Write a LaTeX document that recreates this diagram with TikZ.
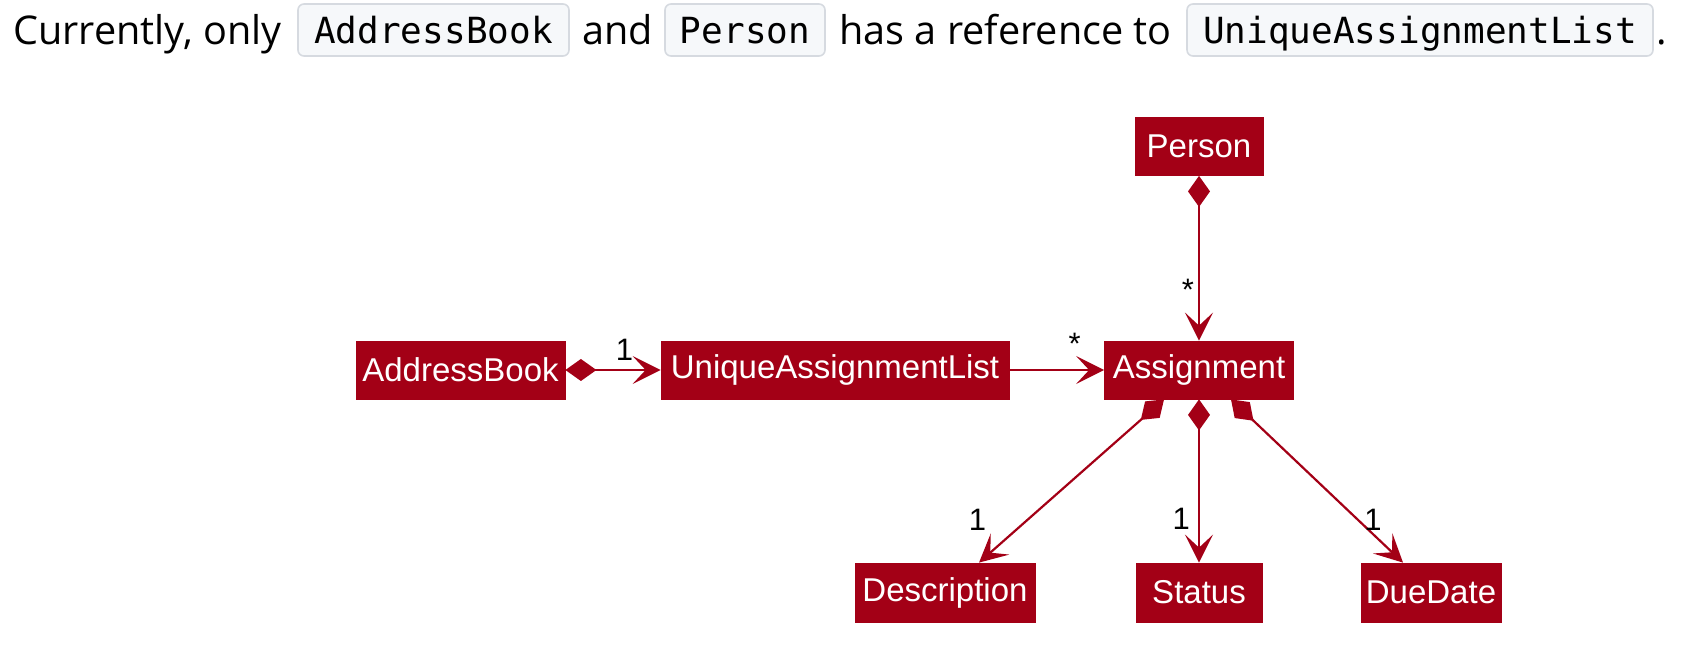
\documentclass[tikz,border=0pt]{standalone}
\usepackage{fontspec}
\setmainfont{Open Sans}
\setmonofont{DejaVu Sans Mono}
\newfontfamily\umlfont{Liberation Sans}
\usetikzlibrary{arrows.meta, positioning}

\definecolor{umlred}{RGB}{163,0,22}
\definecolor{codebg}{RGB}{246,248,250}
\definecolor{codeline}{RGB}{214,218,224}

\tikzset{
	cls/.style={fill=umlred, draw=umlred, text=white, inner sep=0pt,
		minimum height=29pt, font=\umlfont\fontsize{16.5}{20}\selectfont},
	comp/.style={draw=umlred, line width=1.1pt,
		{Diamond[length=15.5pt, width=11pt]}-{Stealth[length=14pt, width=14pt, inset=6.5pt]}},
	assoc/.style={draw=umlred, line width=1.1pt,
		-{Stealth[length=14pt, width=14pt, inset=6.5pt]}},
	mult/.style={font=\umlfont\fontsize{15.5}{18}\selectfont, inner sep=1pt, text=black},
	codebox/.style={draw=codeline, fill=codebg, rounded corners=3pt, line width=0.8pt,
		minimum height=26pt, inner sep=0pt, text height=16pt, text depth=2pt,
		font=\ttfamily\fontsize{18}{22}\selectfont},
	prose/.style={anchor=base west, inner sep=0pt, font=\fontsize{19.8}{24}\selectfont}
}

\begin{document}
\begin{tikzpicture}[x=0.5pt, y=-0.5pt]
	\useasboundingbox (0,0) rectangle (1696,646);
	
	% --- sentence above the diagram ---
	\node[prose] (t1) at (13,45) {Currently, only};
	\node[codebox, minimum width=135.5pt] (c1) at (433.5,30) {AddressBook};
	\node[prose] (t2) at (582,45) {and};
	\node[codebox, minimum width=80pt] (c2) at (745,30) {Person};
	\node[prose] (t3) at (839,45) {has a reference to};
	\node[codebox, minimum width=233pt] (c3) at (1420,30) {UniqueAssignmentList};
	\node[prose] (t4) at (1656,45) {.};
	
	% --- classes ---
	\node[cls, minimum width=64pt] (person) at (1199,146.5) {Person};
	\node[cls, minimum width=104.5pt] (addressbook) at (460.5,370) {AddressBook};
	\node[cls, minimum width=174pt] (ual) at (835,370) {UniqueAssignmentList};
	\node[cls, minimum width=94.5pt] (assignment) at (1199,370) {Assignment};
	\node[cls, minimum width=90pt, minimum height=29.5pt] (description) at (945,592.5) {Description};
	\node[cls, minimum width=63pt, minimum height=29.5pt] (status) at (1199,592.5) {Status};
	\node[cls, minimum width=70pt, minimum height=29.5pt] (duedate) at (1431,592.5) {DueDate};
	
	% --- associations ---
	\draw[comp] (addressbook.east) -- (ual.west) node[mult, pos=0.62, above=3pt] {1};
	\draw[assoc] (ual.east) -- (assignment.west) node[mult, pos=0.69, above=6pt] {*};
	\draw[comp] (person.south) -- (assignment.north) node[mult, pos=0.69, left=1pt] {*};
	
	% Assignment owns its fields
	\draw[comp] ([xshift=-17.5pt]assignment.south) -- ([xshift=17pt]description.north)
		node[mult, pos=0.74, left=19pt] {1};
	\draw[comp] (assignment.south) -- (status.north) node[mult, pos=0.73, left=3pt] {1};
	\draw[comp] ([xshift=16pt]assignment.south) -- ([xshift=-14pt]duedate.north)
		node[mult, pos=0.74, right=1.5pt] {1};
	
\end{tikzpicture}
\end{document}
